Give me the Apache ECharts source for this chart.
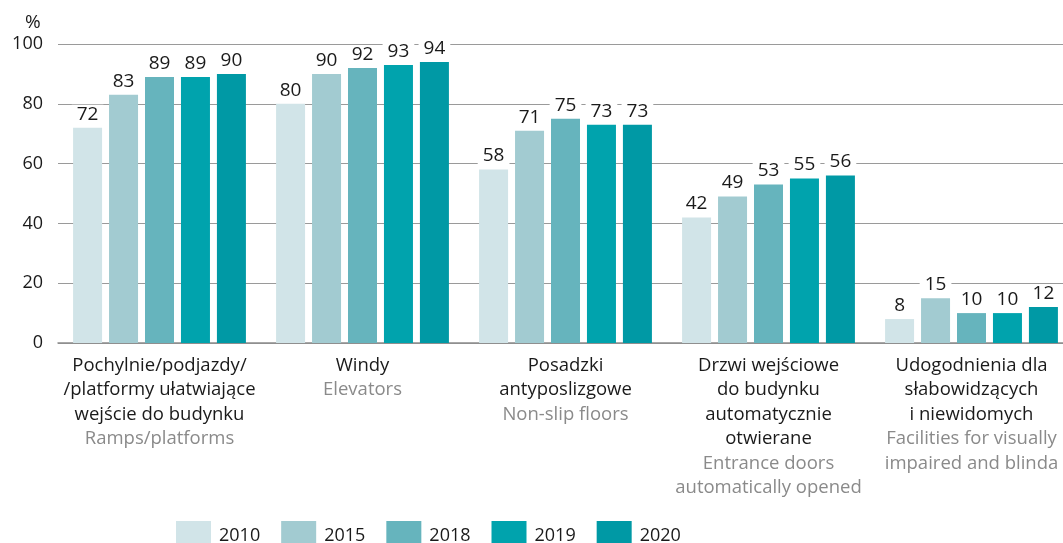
<!DOCTYPE html>
<html>
<head>
<meta charset="utf-8">
<script src="https://cdn.jsdelivr.net/npm/echarts@6/dist/echarts.min.js"></script>
<style>
  html, body { margin: 0; padding: 0; background: #fff; }
  #chart { width: 1063px; height: 543px; }
</style>
</head>
<body>
<div id="chart"></div>
<script>
// Facility categories: Polish name lines and English name lines
const categoriesPl = [
  ['Pochylnie/podjazdy/', '/platformy ułatwiające', 'wejście do budynku'],
  ['Windy'],
  ['Posadzki', 'antyposlizgowe'],
  ['Drzwi wejściowe', 'do budynku', 'automatycznie', 'otwierane'],
  ['Udogodnienia dla', 'słabowidzących', 'i niewidomych']
];
const categoriesEn = [
  ['Ramps/platforms'],
  ['Elevators'],
  ['Non-slip floors'],
  ['Entrance doors', 'automatically opened'],
  ['Facilities for visually', 'impaired and blinda']
];

const years = ['2010', '2015', '2018', '2019', '2020'];

// Share of buildings with each facility, in %
const values2010 = [72, 80, 58, 42, 8];
const values2015 = [83, 90, 71, 49, 15];
const values2018 = [89, 92, 75, 53, 10];
const values2019 = [89, 93, 73, 55, 10];
const values2020 = [90, 94, 73, 56, 12];

const yTicks = [0, 20, 40, 60, 80, 100];

const seriesValues = [values2010, values2015, values2018, values2019, values2020];
const colors = ['#d1e4e8', '#a2cbd1', '#66b4bd', '#00a3ad', '#0099a5'];

const categoryKeys = categoriesPl.map((_, i) => 'c' + i);
const labelText = {};
categoryKeys.forEach((k, i) => {
  const pl = categoriesPl[i].map(s => '{pl|' + s + '}');
  const en = categoriesEn[i].map(s => '{en|' + s + '}');
  labelText[k] = pl.concat(en).join('\n');
});

const chart = echarts.init(document.getElementById('chart'), null, { renderer: 'canvas' });

const series = years.map((y, i) => ({
  name: y,
  type: 'bar',
  data: seriesValues[i],
  barWidth: 29,
  barGap: '24%',
  itemStyle: { color: colors[i] },
  label: {
    show: true,
    position: 'top',
    distance: 4,
    color: '#1a1a1a',
    fontSize: 19,
    fontFamily: 'Open Sans, Noto Sans, sans-serif',
    backgroundColor: '#ffffff',
    padding: [0, 5, 0, 5]
  }
}));

chart.setOption({
  animation: false,
  backgroundColor: '#ffffff',
  title: {
    text: '%',
    left: 20,
    top: 8,
    textStyle: { fontSize: 19, fontWeight: 'normal', color: '#1a1a1a', fontFamily: 'Open Sans, Noto Sans, sans-serif' }
  },
  legend: {
    data: years,
    left: 171,
    top: 516,
    itemWidth: 35,
    itemHeight: 30,
    itemGap: 21,
    icon: 'rect',
    textStyle: {
      fontSize: 18,
      color: '#1a1a1a',
      fontFamily: 'Open Sans, Noto Sans, sans-serif',
      padding: [0, 0, 0, 3]
    }
  },
  grid: {
    left: 58,
    width: 1015,
    top: 44,
    bottom: 200,
    containLabel: false,
    outerBoundsMode: 'none'
  },
  xAxis: {
    type: 'category',
    data: categoryKeys,
    axisTick: { show: false },
    axisLine: { lineStyle: { color: '#8c8c8c', width: 1.5 } },
    axisLabel: {
      interval: 0,
      margin: 10,
      hideOverlap: false,
      formatter: v => labelText[v],
      rich: {
        pl: { fontSize: 18.5, color: '#1a1a1a', lineHeight: 24.5, fontFamily: 'Open Sans, Noto Sans, sans-serif' },
        en: { fontSize: 18.5, color: '#8a8a8a', lineHeight: 24.5, fontFamily: 'Open Sans, Noto Sans, sans-serif' }
      }
    }
  },
  yAxis: {
    type: 'value',
    min: yTicks[0],
    max: yTicks[yTicks.length - 1],
    interval: 20,
    axisLine: { show: false },
    axisTick: { show: false },
    axisLabel: {
      margin: 15,
      fontSize: 18,
      color: '#1a1a1a',
      fontFamily: 'Open Sans, Noto Sans, sans-serif'
    },
    splitLine: { lineStyle: { color: '#9a9a9a', width: 1 } }
  },
  series: series
});
</script>
</body>
</html>
